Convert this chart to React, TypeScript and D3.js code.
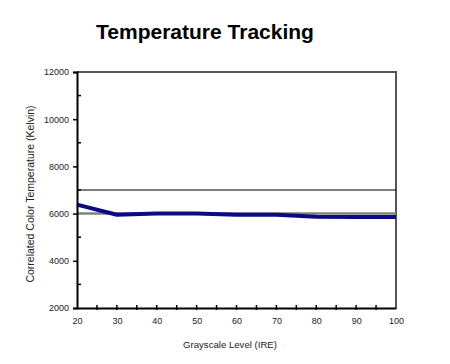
import { useEffect, useRef } from "react";
import * as d3 from "d3";

// Grayscale level (IRE) and measured correlated colour temperature (K)
const ireLevels = [20, 30, 40, 50, 60, 70, 80, 90, 100];
const measuredCCT = [6380, 5950, 6000, 6000, 5950, 5950, 5870, 5860, 5860];
const referenceCCT = 6000; // grey target line
const upperCCT = 7000; // black limit line
const xTicks = [20, 30, 40, 50, 60, 70, 80, 90, 100];
const yTicks = [2000, 4000, 6000, 8000, 10000, 12000];

const W = 450;
const H = 364;
const margin = { top: 72, right: 54, bottom: 56, left: 77 };
const FONT = "'Liberation Sans', Arial, sans-serif";

export default function App() {
  const ref = useRef<SVGSVGElement>(null);

  useEffect(() => {
    const svg = d3.select(ref.current!);
    svg.selectAll("*").remove();

    const innerW = W - margin.left - margin.right;
    const innerH = H - margin.top - margin.bottom;

    const x = d3.scaleLinear().domain([20, 100]).range([0, innerW]);
    const y = d3.scaleLinear().domain([2000, 12000]).range([innerH, 0]);

    svg.append("rect").attr("width", W).attr("height", H).attr("fill", "#fff");

    svg
      .append("text")
      .attr("x", 205)
      .attr("y", 39)
      .attr("text-anchor", "middle")
      .attr("font-family", FONT)
      .attr("font-weight", "bold")
      .attr("font-size", "21px")
      .attr("fill", "#000")
      .text("Temperature Tracking");

    const g = svg.append("g").attr("transform", `translate(${margin.left},${margin.top})`);

    // frame: top + right in grey
    g.append("path")
      .attr("d", `M0,0H${innerW}V${innerH}`)
      .attr("fill", "none")
      .attr("stroke", "#555")
      .attr("stroke-width", 2);

    // limit line and target line
    g.append("line")
      .attr("x1", 0)
      .attr("x2", innerW)
      .attr("y1", y(upperCCT))
      .attr("y2", y(upperCCT))
      .attr("stroke", "#000")
      .attr("stroke-width", 1.2);
    g.append("line")
      .attr("x1", 0)
      .attr("x2", innerW)
      .attr("y1", y(referenceCCT))
      .attr("y2", y(referenceCCT))
      .attr("stroke", "#808080")
      .attr("stroke-width", 2.5);

    // measured series
    const line = d3
      .line<number>()
      .x((_d, i) => x(ireLevels[i]))
      .y((d) => y(d));
    g.append("path")
      .datum(measuredCCT)
      .attr("d", line)
      .attr("fill", "none")
      .attr("stroke", "#0a0a84")
      .attr("stroke-width", 4)
      .attr("stroke-linejoin", "round");

    // y axis
    const gy = g
      .append("g")
      .call(d3.axisLeft(y).tickValues(yTicks).tickSize(4).tickPadding(4).tickFormat((d) => `${d}`));
    gy.select(".domain").attr("stroke", "#000").attr("stroke-width", 2);
    gy.selectAll(".tick line").attr("stroke", "#000").attr("stroke-width", 1.5);
    gy.selectAll("text").attr("font-family", FONT).attr("font-size", "9px").attr("fill", "#222");
    // minor ticks inward
    g.append("g")
      .selectAll("line")
      .data([3000, 5000, 7000, 9000, 11000])
      .join("line")
      .attr("x1", 0)
      .attr("x2", 4)
      .attr("y1", (d) => y(d))
      .attr("y2", (d) => y(d))
      .attr("stroke", "#000")
      .attr("stroke-width", 1.5);

    // x axis
    const gx = g
      .append("g")
      .attr("transform", `translate(0,${innerH})`)
      .call(d3.axisBottom(x).tickValues(xTicks).tickSize(0).tickPadding(10).tickFormat((d) => `${d}`));
    gx.select(".domain").attr("stroke", "#000").attr("stroke-width", 2);
    gx.selectAll("text").attr("font-family", FONT).attr("font-size", "9px").attr("fill", "#222");
    g.append("g")
      .selectAll("line")
      .data(d3.range(25, 100, 5))
      .join("line")
      .attr("x1", (d) => x(d))
      .attr("x2", (d) => x(d))
      .attr("y1", innerH - 3)
      .attr("y2", innerH + 2)
      .attr("stroke", "#000")
      .attr("stroke-width", 1.5);

    // axis titles
    svg
      .append("text")
      .attr("x", 230)
      .attr("y", 348)
      .attr("text-anchor", "middle")
      .attr("font-family", FONT)
      .attr("font-size", "9.6px")
      .attr("fill", "#222")
      .text("Grayscale Level (IRE)");
    svg
      .append("text")
      .attr("transform", `translate(34,194) rotate(-90)`)
      .attr("text-anchor", "middle")
      .attr("font-family", FONT)
      .attr("font-size", "10.5px")
      .attr("fill", "#222")
      .text("Correlated Color Temperature (Kelvin)");
  }, []);

  return (
    <svg
      ref={ref}
      width={W}
      height={H}
      style={{ position: "absolute", left: 0, top: 0, display: "block" }}
    />
  );
}
